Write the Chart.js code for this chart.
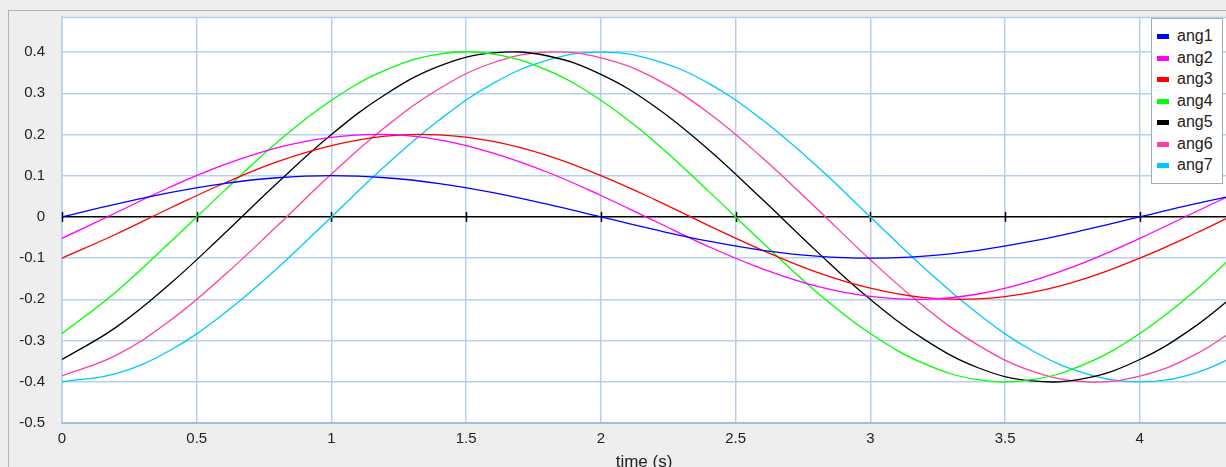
<!DOCTYPE html>
<html>
<head>
<meta charset="utf-8">
<script src="https://cdn.jsdelivr.net/npm/chart.js@4.4.1/dist/chart.umd.min.js"></script>
<style>
html, body { margin:0; padding:0; background:#eeeeee; overflow:hidden; width:1226px; height:467px; }
#frame { position:absolute; left:8px; top:10px; width:1300px; height:600px; border-left:1px solid #b4b4b4; border-top:1px solid #b4b4b4; }
#wrap { position:absolute; left:0; top:0; width:1226px; height:480px; }
#legend { position:absolute; left:1151px; top:18px; width:72px; height:166px; background:#fff; border:1px solid #9aaec8; box-sizing:border-box; padding-top:6px;
  font:16px "Liberation Sans", Arial, sans-serif; color:#222; }
#legend div { position:relative; height:21.5px; line-height:21.5px; padding-left:25px; }
#legend span { position:absolute; left:5px; top:9px; width:12px; height:5px; }
</style>
</head>
<body>
<div id="frame"></div>
<div id="wrap"><canvas id="c" width="1226" height="480"></canvas></div>
<div id="legend"></div>
<script>
// ── data (0.2 s steps) ──
const times = [0,0.2,0.4,0.6,0.8,1.0,1.2,1.4,1.6,1.8,2.0,2.2,2.4,2.6,2.8,3.0,3.2,3.4,3.6,3.8,4.0,4.2,4.4];
const ang1 = [0,0.031,0.059,0.081,0.095,0.1,0.095,0.081,0.059,0.031,0,-0.031,-0.059,-0.081,-0.095,-0.1,-0.095,-0.081,-0.059,-0.031,0,0.031,0.059];
const ang2 = [-0.052,0.010,0.072,0.126,0.168,0.193,0.200,0.187,0.155,0.109,0.052,-0.010,-0.072,-0.126,-0.168,-0.193,-0.200,-0.187,-0.155,-0.109,-0.052,0.010,0.072];
const ang3 = [-0.1,-0.042,0.021,0.081,0.134,0.173,0.196,0.199,0.183,0.149,0.1,0.042,-0.021,-0.081,-0.134,-0.173,-0.196,-0.199,-0.183,-0.149,-0.1,-0.042,0.021];
const ang4 = [-0.283,-0.182,-0.062,0.062,0.182,0.283,0.356,0.395,0.395,0.356,0.283,0.182,0.062,-0.062,-0.182,-0.283,-0.356,-0.395,-0.395,-0.356,-0.283,-0.182,-0.062];
const ang5 = [-0.346,-0.268,-0.163,-0.042,0.083,0.2,0.297,0.366,0.398,0.391,0.346,0.268,0.163,0.042,-0.083,-0.2,-0.297,-0.366,-0.398,-0.391,-0.346,-0.268,-0.163];
const ang6 = [-0.386,-0.336,-0.252,-0.143,-0.021,0.104,0.218,0.311,0.374,0.400,0.386,0.336,0.252,0.143,0.021,-0.104,-0.218,-0.311,-0.374,-0.400,-0.386,-0.336,-0.252];
const ang7 = [-0.4,-0.38,-0.324,-0.235,-0.124,0,0.124,0.235,0.324,0.38,0.4,0.38,0.324,0.235,0.124,0,-0.124,-0.235,-0.324,-0.38,-0.4,-0.38,-0.324];

const seriesNames = ['ang1','ang2','ang3','ang4','ang5','ang6','ang7'];
const seriesVals = [ang1, ang2, ang3, ang4, ang5, ang6, ang7];
const seriesColors = ['#0000ff','#ff00ff','#ff0000','#00ff00','#000000','#ff3fa0','#00c8ff'];

const xTicks = [0,0.5,1,1.5,2,2.5,3,3.5,4];
const xTickLabels = ['0','0.5','1','1.5','2','2.5','3','3.5','4'];
const yTicks = [0.4,0.3,0.2,0.1,0,-0.1,-0.2,-0.3,-0.4,-0.5];
const yTickLabels = ['0.4','0.3','0.2','0.1','0','-0.1','-0.2','-0.3','-0.4','-0.5'];

const GRID = '#b6cfec';
const FONT = '"Liberation Sans", Arial, sans-serif';

const plotDecor = {
  id: 'plotDecor',
  beforeDraw(chart) {
    const {ctx, chartArea:a} = chart;
    ctx.save();
    ctx.fillStyle = '#fff';
    ctx.fillRect(a.left, a.top, a.width, a.height);
    ctx.restore();
  },
  beforeDatasetsDraw(chart) {
    const {ctx, chartArea:a, scales:{x, y}} = chart;
    ctx.save();
    // top border of the plot
    ctx.strokeStyle = GRID; ctx.lineWidth = 1.5;
    ctx.beginPath(); ctx.moveTo(a.left, a.top + 0.5); ctx.lineTo(a.right, a.top + 0.5); ctx.stroke();
    // tick marks on the zero axis
    const y0 = y.getPixelForValue(0);
    ctx.strokeStyle = '#000'; ctx.lineWidth = 1.5;
    xTicks.forEach(v => {
      const px = Math.round(x.getPixelForValue(v)) + 0.5;
      ctx.beginPath(); ctx.moveTo(px, y0 - 5); ctx.lineTo(px, y0 + 5); ctx.stroke();
    });
    ctx.restore();
  }
};

const chart = new Chart(document.getElementById('c'), {
  type: 'line',
  data: {
    datasets: seriesNames.map((name, i) => ({
      label: name,
      data: times.map((t, j) => ({x: t, y: seriesVals[i][j]})),
      borderColor: seriesColors[i], backgroundColor: seriesColors[i],
      borderWidth: 1.3, pointRadius: 0, tension: 0.4, fill: false
    }))
  },
  options: {
    responsive: false, animation: false,
    layout: {padding: {left: 0, top: 17, right: 0, bottom: 0}},
    plugins: {legend: {display: false}, tooltip: {enabled: false}},
    scales: {
      x: {
        type: 'linear', min: 0, max: 4.32,
        afterBuildTicks: s => { s.ticks = xTicks.map(v => ({value: v})); },
        afterFit: s => { s.height = 57; s.paddingLeft = 0; s.paddingRight = 0; },
        grid: {color: GRID, lineWidth: 1.5, drawTicks: false},
        border: {color: '#a9bcd4', width: 2},
        ticks: {padding: 7, color: '#222', font: {family: FONT, size: 15},
                callback: (v, i) => xTickLabels[i], maxRotation: 0, autoSkip: false},
        title: {display: true, text: 'time (s)', color: '#222', font: {family: FONT, size: 17}, padding: {top: 0, bottom: 7}}
      },
      y: {
        min: -0.5, max: 0.485,
        afterBuildTicks: s => { s.ticks = yTicks.map(v => ({value: v})); },
        afterFit: s => { s.width = 62; s.paddingTop = 0; s.paddingBottom = 0; },
        grid: {color: c => c.tick && c.tick.value === 0 ? '#000' : GRID,
               lineWidth: 1.5, drawTicks: false},
        border: {color: GRID, width: 1.5},
        ticks: {padding: 17, color: '#222', font: {family: FONT, size: 15},
                callback: (v, i) => yTickLabels[i], autoSkip: false}
      }
    }
  },
  plugins: [plotDecor]
});

// legend box from the chart's own labels
const items = chart.options.plugins.legend.labels.generateLabels(chart);
document.getElementById('legend').innerHTML = items.map(it =>
  `<div><span style="background:${it.strokeStyle}"></span>${it.text}</div>`).join('');
</script>
</body>
</html>
